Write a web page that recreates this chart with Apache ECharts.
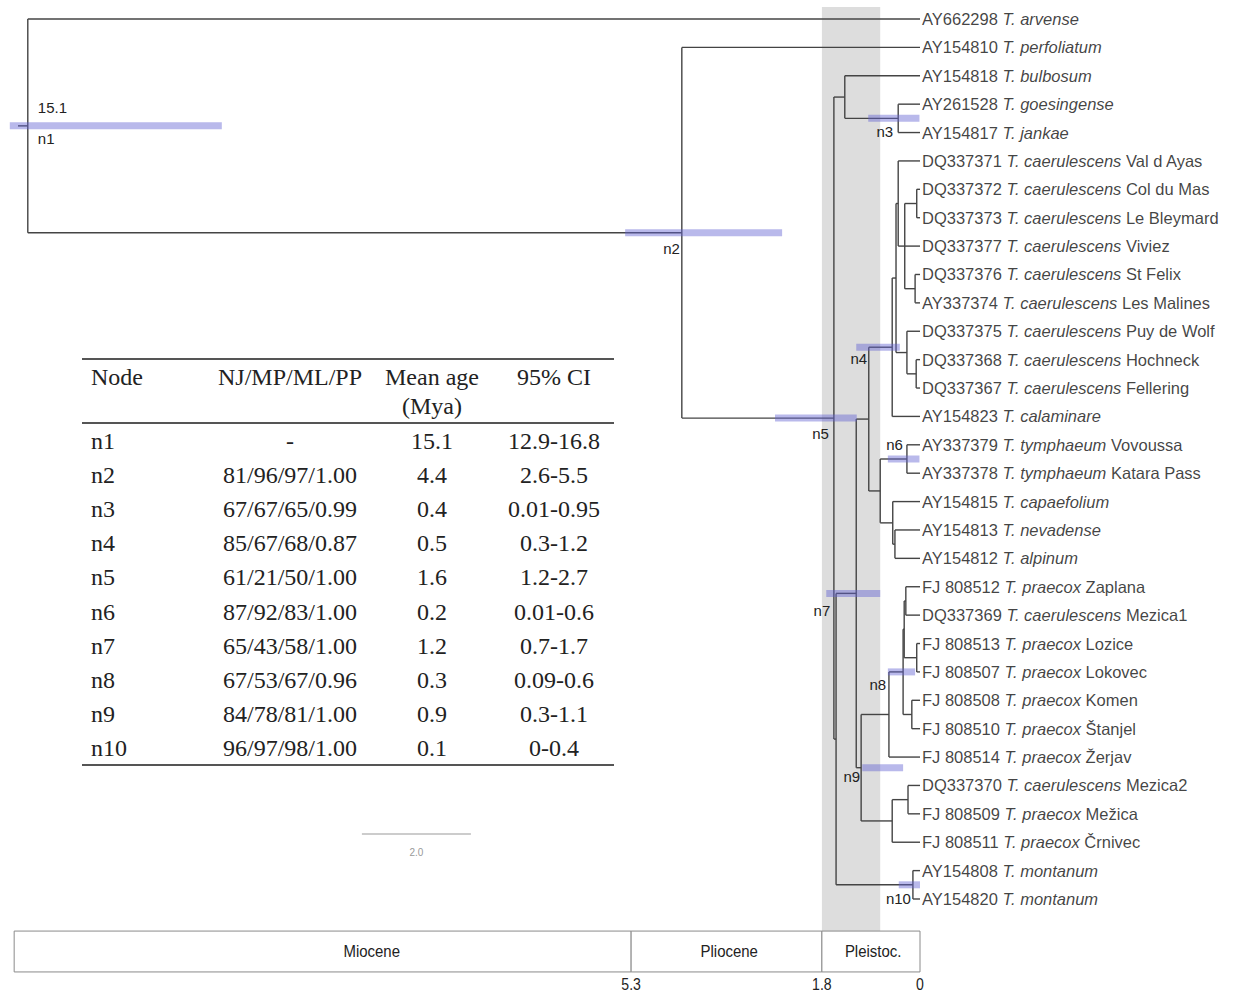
<!DOCTYPE html>
<html>
<head>
<meta charset="utf-8">
<script src="https://cdn.jsdelivr.net/npm/echarts@6/dist/echarts.min.js"></script>
<style>
html,body{margin:0;padding:0;background:#fff;}
#chart{width:1234px;height:992px;}
</style>
</head>
<body>
<div id="chart"></div>
<script>
// ---------------- DATA ----------------
const tipIds = ['AY662298','AY154810','AY154818','AY261528','AY154817','DQ337371','DQ337372','DQ337373','DQ337377','DQ337376','AY337374','DQ337375','DQ337368','DQ337367','AY154823','AY337379','AY337378','AY154815','AY154813','AY154812','FJ 808512','DQ337369','FJ 808513','FJ 808507','FJ 808508','FJ 808510','FJ 808514','DQ337370','FJ 808509','FJ 808511','AY154808','AY154820'];
const tipSpecies = ['T. arvense','T. perfoliatum','T. bulbosum','T. goesingense','T. jankae','T. caerulescens','T. caerulescens','T. caerulescens','T. caerulescens','T. caerulescens','T. caerulescens','T. caerulescens','T. caerulescens','T. caerulescens','T. calaminare','T. tymphaeum','T. tymphaeum','T. capaefolium','T. nevadense','T. alpinum','T. praecox','T. caerulescens','T. praecox','T. praecox','T. praecox','T. praecox','T. praecox','T. caerulescens','T. praecox','T. praecox','T. montanum','T. montanum'];
const tipPlaces = ['','','','','','Val d Ayas','Col du Mas','Le Bleymard','Viviez','St Felix','Les Malines','Puy de Wolf','Hochneck','Fellering','','Vovoussa','Katara Pass','','','','Zaplana','Mezica1','Lozice','Lokovec','Komen','Štanjel','Žerjav','Mezica2','Mežica','Črnivec','',''];

// internal nodes (ages in Mya as drawn)
const nodeNames = ['n1','n2','n5','X','BUL','n3','n7','Y','n4','P','Q','S','T','U','R2','HF','Z','n6','V','W','n9','N','n8','B','A1','A2','A3','M','M1','n10'];
const nodeChildren = [
  ['t0','n2'], ['t1','n5'], ['BUL','X'], ['n7','n10'], ['t2','n3'], ['t3','t4'],
  ['Y','n9'], ['n4','Z'], ['P','t14'], ['Q','R2'], ['t5','S'], ['T','t8','U'],
  ['t6','t7'], ['t9','t10'], ['t11','HF'], ['t12','t13'], ['n6','V'], ['t15','t16'],
  ['t17','W'], ['t18','t19'], ['N','M'], ['n8','t26'], ['B','A3'], ['A1','A2'],
  ['t20','t21'], ['t22','t23'], ['t24','t25'], ['M1','t29'], ['t27','t28'], ['t30','t31']
];
const nodeAges = [16.37,4.37,1.58,1.54,1.38,0.40,1.17,0.94,0.51,0.44,0.40,0.28,0.06,0.09,0.24,0.07,0.73,0.24,0.50,0.46,1.08,0.57,0.31,0.29,0.26,0.06,0.15,0.51,0.22,0.13];
const rootStubAge = 16.55;

// 95% CI bars
const ciNodes = ['n1','n2','n3','n4','n5','n6','n7','n8','n9','n10'];
const ciHigh = [16.70,5.41,0.95,1.17,2.66,0.59,1.72,0.59,1.06,0.39];
const ciLow  = [12.81,2.53,0.01,0.37,1.16,0.01,0.73,0.09,0.31,0.00];
const rootAgeLabel = '15.1';

// shaded period
const bandFrom = 1.8, bandTo = 0.73;

// epochs
const epochNames = ['Miocene','Pliocene','Pleistoc.'];
const epochStart = [16.62,5.3,1.8];
const epochEnd = [5.3,1.8,0];
const epochLabelAt = [10.06,3.50,0.86];
const epochTicks = ['5.3','1.8','0'];
const epochTickVals = [5.3,1.8,0];

// scale bar
const scaleBarLen = 2.0;
const scaleBarStart = 10.24;

// table
const tableHeader = ['Node','NJ/MP/ML/PP','Mean age','95% CI'];
const tableNode = ['n1','n2','n3','n4','n5','n6','n7','n8','n9','n10'];
const tableSupport = ['-','81/96/97/1.00','67/67/65/0.99','85/67/68/0.87','61/21/50/1.00','87/92/83/1.00','65/43/58/1.00','67/53/67/0.96','84/78/81/1.00','96/97/98/1.00'];
const tableMean = ['15.1','4.4','0.4','0.5','1.6','0.2','1.2','0.3','0.9','0.1'];
const tableCI = ['12.9-16.8','2.6-5.5','0.01-0.95','0.3-1.2','1.2-2.7','0.01-0.6','0.7-1.7','0.09-0.6','0.3-1.1','0-0.4'];

// ---------------- LAYOUT / STYLE ----------------
const labelOffsets = {
  n1:[10,13,'left'], n2:[-2,16,'right'], n3:[-5,13,'right'], n4:[-25,11,'right'], n5:[-5,15,'right'],
  n6:[-4,-14,'right'], n7:[-26,17,'right'], n8:[-17,13,'right'], n9:[-1,9,'right'], n10:[-2,14,'right']
};
const SANS = 'Liberation Sans, Arial, sans-serif';
const NARROW = 'Liberation Sans Narrow, Arial Narrow, Liberation Sans, sans-serif';
const SERIF = 'Liberation Serif, Times New Roman, serif';

// ---------------- TREE COMPUTATION ----------------
const nodeIndex = {};
nodeNames.forEach((n,i)=>nodeIndex[n]=i);
const posAge = {}, posRow = {};
tipIds.forEach((_,i)=>{ posAge['t'+i]=0; posRow['t'+i]=i; });
function rowOf(name){
  if (name in posRow) return posRow[name];
  const i = nodeIndex[name];
  const ch = nodeChildren[i];
  const rows = ch.map(rowOf);
  posRow[name] = (rows[0] + rows[rows.length-1]) / 2;
  posAge[name] = nodeAges[i];
  return posRow[name];
}
rowOf('n1');
const segments = [];
nodeNames.forEach((n,i)=>{
  const ch = nodeChildren[i];
  const a = nodeAges[i];
  segments.push([a, posRow[ch[0]], a, posRow[ch[ch.length-1]]]);
  ch.forEach(c=>segments.push([a, posRow[c], posAge[c], posRow[c]]));
});
segments.push([rootStubAge, posRow['n1'], nodeAges[0], posRow['n1']]);

const ciData = ciNodes.map((n,i)=>[ciHigh[i], ciLow[i], posRow[n]]);
const nodeLabelData = ciNodes.map(n=>[posAge[n], posRow[n], n]);

// ---------------- CHART ----------------
const chart = echarts.init(document.getElementById('chart'), null, {renderer:'svg'});
const ROWPX = 28.387;
const yMin = -0.5, yMax = 34.2;

function txt(x,y,text,opt){
  return {type:'text', x:x, y:y, style:Object.assign({text:text, fill:'#222', font:'24px '+SERIF, textAlign:'left', textVerticalAlign:'middle'}, opt||{})};
}
const tableGraphics = [];
const colNodeX = 91, colSupX = 290, colMeanX = 432, colCIX = 554;
tableGraphics.push({type:'line', shape:{x1:82,y1:359,x2:614,y2:359}, style:{stroke:'#555', lineWidth:2}});
tableGraphics.push({type:'line', shape:{x1:82,y1:423,x2:614,y2:423}, style:{stroke:'#555', lineWidth:2}});
tableGraphics.push({type:'line', shape:{x1:82,y1:765,x2:614,y2:765}, style:{stroke:'#555', lineWidth:2}});
tableGraphics.push(txt(colNodeX,377,tableHeader[0]));
tableGraphics.push(txt(colSupX,377,tableHeader[1],{textAlign:'center'}));
tableGraphics.push(txt(colMeanX,377,tableHeader[2],{textAlign:'center'}));
tableGraphics.push(txt(colMeanX,406,'(Mya)',{textAlign:'center'}));
tableGraphics.push(txt(colCIX,377,tableHeader[3],{textAlign:'center'}));
tableNode.forEach((n,i)=>{
  const y = 441 + i*34.1;
  tableGraphics.push(txt(colNodeX,y,n));
  tableGraphics.push(txt(colSupX,y,tableSupport[i],{textAlign:'center'}));
  tableGraphics.push(txt(colMeanX,y,tableMean[i],{textAlign:'center'}));
  tableGraphics.push(txt(colCIX,y,tableCI[i],{textAlign:'center'}));
});

const option = {
  animation:false,
  backgroundColor:'#fff',
  grid:{left:0, width:920, top:19 + yMin*ROWPX, height:(yMax-yMin)*ROWPX, containLabel:false},
  xAxis:{type:'value', min:0, max:16.88, inverse:true, show:false},
  yAxis:{type:'value', min:yMin, max:yMax, inverse:true, show:false},
  graphic:{elements:tableGraphics},
  series:[
    { // shaded band
      type:'custom', z:1, silent:true,
      data:[[bandFrom, bandTo, -0.42, 32.13]],
      renderItem:(p,api)=>{
        const a = api.coord([api.value(0), api.value(2)]);
        const b = api.coord([api.value(1), api.value(3)]);
        return {type:'rect', shape:{x:a[0], y:a[1], width:b[0]-a[0], height:b[1]-a[1]}, style:{fill:'#dddddd'}};
      }
    },
    { // branches
      type:'custom', z:2, silent:true,
      data:segments,
      renderItem:(p,api)=>{
        const a = api.coord([api.value(0), api.value(1)]);
        const b = api.coord([api.value(2), api.value(3)]);
        return {type:'line', shape:{x1:a[0], y1:a[1], x2:b[0], y2:b[1]}, style:{stroke:'#444', lineWidth:1.4}};
      }
    },
    { // CI bars
      type:'custom', z:3, silent:true,
      data:ciData,
      renderItem:(p,api)=>{
        const a = api.coord([api.value(0), api.value(2)]);
        const b = api.coord([api.value(1), api.value(2)]);
        return {type:'rect', shape:{x:a[0], y:a[1]-3.5, width:b[0]-a[0], height:7}, style:{fill:'rgba(100,100,210,0.45)'}};
      }
    },
    { // node labels
      type:'custom', z:4, silent:true,
      data:nodeLabelData,
      renderItem:(p,api)=>{
        const name = nodeLabelData[p.dataIndex][2];
        const c = api.coord([api.value(0), api.value(1)]);
        const o = labelOffsets[name];
        const children = [{type:'text', x:c[0]+o[0], y:c[1]+o[1], style:{text:name, fill:'#222', font:'15px '+SANS, textAlign:o[2], textVerticalAlign:'middle'}}];
        if (name === 'n1') children.push({type:'text', x:c[0]+o[0], y:c[1]-18, style:{text:rootAgeLabel, fill:'#222', font:'15px '+SANS, textAlign:'left', textVerticalAlign:'middle'}});
        return {type:'group', children:children};
      }
    },
    { // tip labels
      type:'scatter', z:5, silent:true, symbolSize:0,
      data:tipIds.map((t,i)=>[0,i]),
      label:{show:true, position:'right', distance:2,
        formatter:(p)=>{
          const i = p.dataIndex;
          let s = '{a|' + tipIds[i] + ' }{i|' + tipSpecies[i] + '}';
          if (tipPlaces[i]) s += '{a| ' + tipPlaces[i] + '}';
          return s;
        },
        rich:{
          a:{fontFamily:SANS, fontSize:16.5, color:'#111'},
          i:{fontFamily:SANS, fontSize:16.5, fontStyle:'italic', color:'#111'}
        }
      }
    },
    { // epoch box
      type:'custom', z:2, silent:true,
      data:epochNames.map((n,i)=>[epochStart[i], epochEnd[i], 32.13, 33.57, epochLabelAt[i]]),
      renderItem:(p,api)=>{
        const a = api.coord([api.value(0), api.value(2)]);
        const b = api.coord([api.value(1), api.value(3)]);
        const t = api.coord([api.value(4), (api.value(2)+api.value(3))/2]);
        return {type:'group', children:[
          {type:'rect', shape:{x:a[0], y:a[1], width:b[0]-a[0], height:b[1]-a[1]}, style:{fill:'#fff', stroke:'#8a8a8a', lineWidth:1}},
          {type:'text', x:t[0], y:t[1], scaleX:0.88, style:{text:epochNames[p.dataIndex], fill:'#222', font:'17px '+NARROW, textAlign:'center', textVerticalAlign:'middle'}}
        ]};
      }
    },
    { // epoch ticks
      type:'custom', z:2, silent:true,
      data:epochTickVals.map(v=>[v, 34.0]),
      renderItem:(p,api)=>{
        const c = api.coord([api.value(0), api.value(1)]);
        return {type:'text', x:c[0], y:c[1], scaleX:0.88, style:{text:epochTicks[p.dataIndex], fill:'#222', font:'16px '+NARROW, textAlign:'center', textVerticalAlign:'middle'}};
      }
    },
    { // scale bar
      type:'custom', z:2, silent:true,
      data:[[scaleBarStart, scaleBarStart-scaleBarLen, 28.71]],
      renderItem:(p,api)=>{
        const a = api.coord([api.value(0), api.value(2)]);
        const b = api.coord([api.value(1), api.value(2)]);
        return {type:'group', children:[
          {type:'line', shape:{x1:a[0], y1:a[1], x2:b[0], y2:b[1]}, style:{stroke:'#9a9a9a', lineWidth:1.2}},
          {type:'text', x:(a[0]+b[0])/2, y:a[1]+19, style:{text:scaleBarLen.toFixed(1), fill:'#999', font:'10px '+NARROW, textAlign:'center', textVerticalAlign:'middle'}}
        ]};
      }
    }
  ]
};
chart.setOption(option);
</script>
</body>
</html>
